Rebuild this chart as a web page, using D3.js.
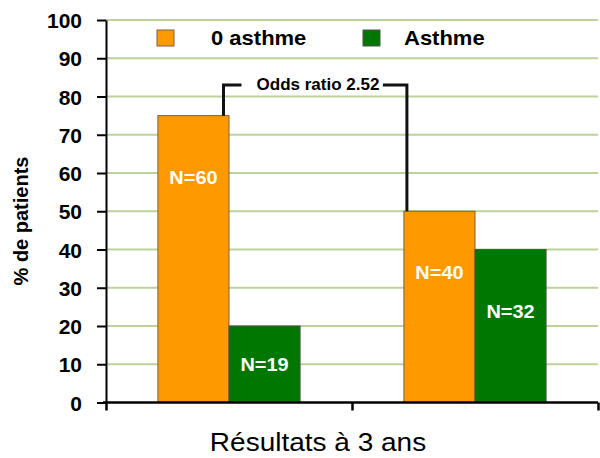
<!DOCTYPE html>
<html>
<head>
<meta charset="utf-8">
<script src="https://cdn.jsdelivr.net/npm/d3@7"></script>
<style>
  body { margin: 0; background: #fff; }
  text { font-family: "Liberation Sans", Arial, sans-serif; }
</style>
</head>
<body>
<svg width="600" height="458"></svg>
<script>
const categories = ["groupe1", "groupe2"];
const series = ["0 asthme", "Asthme"];
const noAsthme = [75, 50];
const asthme = [20, 40];
const nNoAsthme = [60, 40];
const nAsthme = [19, 32];
const yTicks = [0, 10, 20, 30, 40, 50, 60, 70, 80, 90, 100];
const oddsRatio = "2.52";
const colors = ["#ff9900", "#007700"];
const strokes = ["#7a6040", "#505050"];

const svg = d3.select("svg");
const plotLeft = 106, plotRight = 598, plotTop = 20, plotBottom = 402.5;

const y = d3.scaleLinear().domain([0, 100]).range([plotBottom, plotTop]);
const x0 = d3.scaleBand().domain(categories).range([plotLeft, plotRight]);
const x1 = d3.scaleBand().domain(series).range([0, x0.bandwidth()]).paddingOuter(0.73);

// grid
svg.append("g").selectAll("line")
    .data(yTicks.slice(1))
    .enter().append("line")
    .attr("x1", plotLeft).attr("x2", plotRight)
    .attr("y1", d => y(d)).attr("y2", d => y(d))
    .attr("stroke", "#bcd29a").attr("stroke-width", 2);

// bars
const rows = categories.map((c, i) => ({
    cat: c,
    vals: [
        { s: series[0], v: noAsthme[i], n: nNoAsthme[i], k: 0 },
        { s: series[1], v: asthme[i], n: nAsthme[i], k: 1 }
    ]
}));

const grp = svg.append("g").selectAll("g")
    .data(rows)
    .enter().append("g")
    .attr("transform", d => "translate(" + x0(d.cat) + ",0)");

grp.selectAll("rect")
    .data(d => d.vals)
    .enter().append("rect")
    .attr("x", d => x1(d.s))
    .attr("y", d => y(d.v))
    .attr("width", x1.bandwidth())
    .attr("height", d => y(0) - y(d.v))
    .attr("fill", d => colors[d.k])
    .attr("stroke", d => strokes[d.k])
    .attr("stroke-width", 1);

grp.selectAll("text")
    .data(d => d.vals)
    .enter().append("text")
    .attr("transform", d => "translate(" + (x1(d.s) + x1.bandwidth() / 2) + ","
        + (y(Math.max(d.v - 16, d.v / 2)) + 7) + ") scale(1.05,1)")
    .attr("text-anchor", "middle")
    .attr("fill", "#fff")
    .style("font-weight", "bold")
    .style("font-size", "19px")
    .text(d => "N=" + d.n);

// odds ratio bracket
const bx1 = x0(categories[0]) + x1(series[0]) + x1.bandwidth() - 5.5;
const bx2 = x0(categories[1]) + x1(series[0]) + 3;
const by = y(83);
svg.append("path")
    .attr("d", "M" + bx1 + "," + y(noAsthme[0]) + "V" + by + "H" + (bx1 + 18))
    .attr("fill", "none").attr("stroke", "#111").attr("stroke-width", 3);
svg.append("path")
    .attr("d", "M" + (bx2 - 24) + "," + by + "H" + bx2 + "V" + y(noAsthme[1]))
    .attr("fill", "none").attr("stroke", "#111").attr("stroke-width", 3);
svg.append("text")
    .attr("x", 318).attr("y", by + 5)
    .attr("text-anchor", "middle")
    .style("font-weight", "bold")
    .style("font-size", "17px")
    .text("Odds ratio " + oddsRatio);

// axes
const yAxis = svg.append("g")
    .attr("transform", "translate(" + plotLeft + ",0)")
    .call(d3.axisLeft(y).tickValues(yTicks).tickSize(9).tickSizeOuter(0).tickPadding(15));
yAxis.selectAll("text")
    .attr("fill", "#000")
    .style("font-weight", "bold")
    .style("font-size", "21px")
    .attr("dy", "0.36em");
yAxis.selectAll("line, path").attr("stroke", "#000").attr("stroke-width", 2);

const xTickScale = d3.scaleLinear().domain([0, categories.length]).range([plotLeft, plotRight]);
const xAxis = svg.append("g")
    .attr("transform", "translate(0," + plotBottom + ")")
    .call(d3.axisBottom(xTickScale).tickValues(d3.range(categories.length + 1))
        .tickSize(8).tickSizeOuter(0).tickFormat(""));
xAxis.select(".domain").attr("d", "M" + (plotLeft - 3) + ",0H" + plotRight);
xAxis.selectAll("line, path").attr("stroke", "#000").attr("stroke-width", 2.5);

// axis titles
svg.append("text")
    .attr("transform", "translate(28,221) rotate(-90)")
    .attr("text-anchor", "middle")
    .style("font-weight", "bold")
    .style("font-size", "20px")
    .text("% de patients");

svg.append("text")
    .attr("transform", "translate(318,451) scale(1.12,1)")
    .attr("text-anchor", "middle")
    .style("font-size", "25px")
    .text("Résultats à 3 ans");

// legend
const legendX = [157, 363];
const legend = svg.append("g").selectAll("g")
    .data(series)
    .enter().append("g")
    .attr("transform", (d, i) => "translate(" + legendX[i] + ",30)");
legend.append("rect")
    .attr("width", 17).attr("height", 16)
    .attr("fill", (d, i) => colors[i])
    .attr("stroke", (d, i) => strokes[i]);
legend.append("text")
    .attr("transform", (d, i) => "translate(" + (i === 0 ? 54 : 41) + ",15) scale(1.1,1)")
    .style("font-weight", "bold")
    .style("font-size", "20px")
    .text(d => d);
</script>
</body>
</html>
